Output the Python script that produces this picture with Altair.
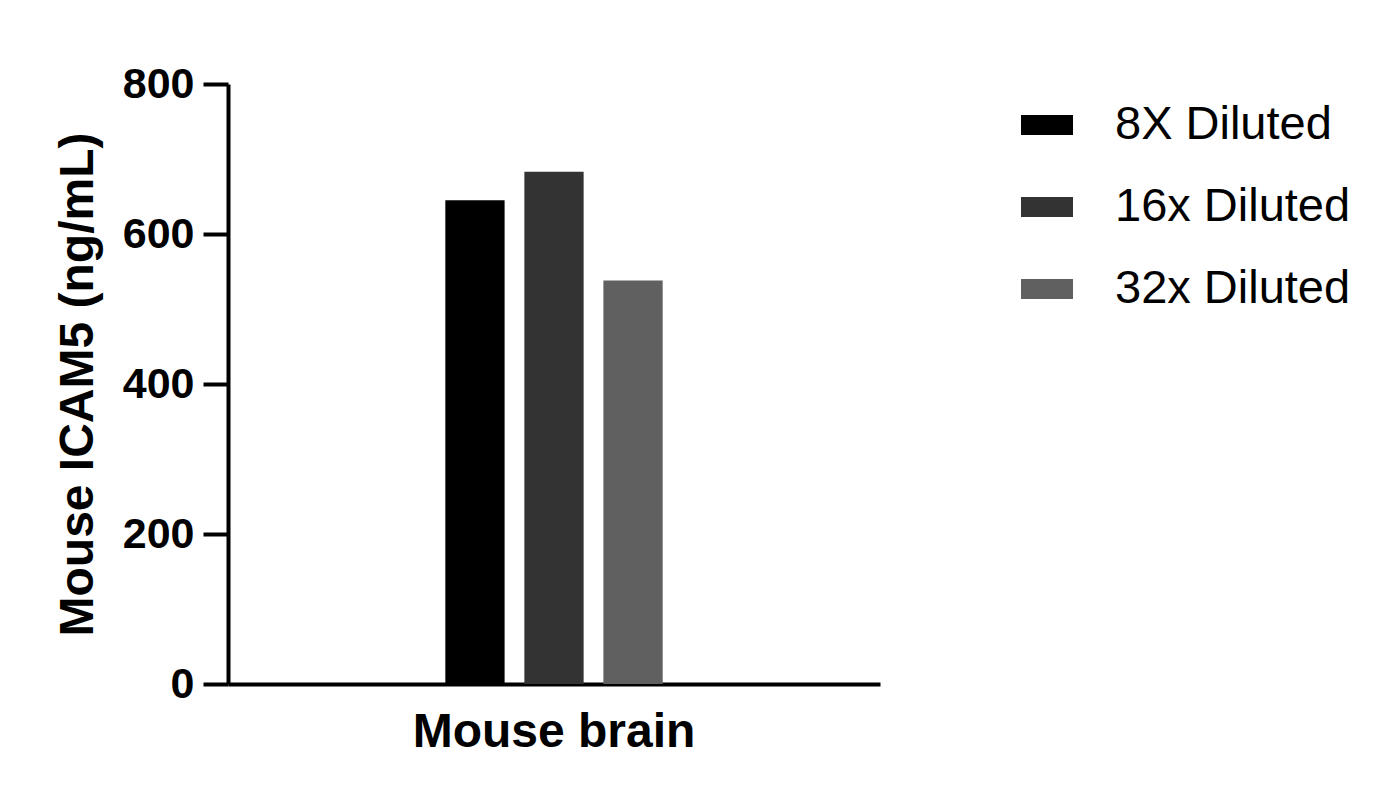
import altair as alt
import pandas as pd

samples = ["Mouse brain", "Mouse brain", "Mouse brain"]
dilutions = ["8X Diluted", "16x Diluted", "32x Diluted"]
values = [645, 683, 538]
colors = ["#000000", "#333333", "#606060"]
y_ticks = [0, 200, 400, 600, 800]

df = pd.DataFrame({"sample": samples, "dilution": dilutions, "value": values})

FONT = "Liberation Sans"

chart = alt.Chart(df).mark_bar().encode(
    x=alt.X(
        "sample:N",
        scale=alt.Scale(paddingInner=0, paddingOuter=1),
        axis=alt.Axis(
            title=None, labelAngle=0, ticks=False, domain=True,
            domainColor="black", domainWidth=4, labelLimit=0,
            labelFont=FONT, labelFontSize=48, labelFontWeight="bold",
            labelColor="black", labelPadding=24,
        ),
    ),
    xOffset=alt.XOffset(
        "dilution:N", sort=dilutions,
        scale=alt.Scale(paddingInner=0.25, paddingOuter=0),
    ),
    y=alt.Y(
        "value:Q",
        scale=alt.Scale(domain=[0, 800], nice=False),
        axis=alt.Axis(
            title="Mouse ICAM5 (ng/mL)", values=y_ticks, grid=False,
            domainColor="black", domainWidth=4, tickColor="black",
            tickWidth=4, tickSize=25, labelPadding=9,
            labelFont=FONT, labelFontSize=43, labelFontWeight="bold",
            labelColor="black", titleFont=FONT, titleFontSize=48,
            titleFontWeight="bold", titleColor="black", titlePadding=20,
        ),
    ),
    color=alt.Color(
        "dilution:N", sort=dilutions,
        scale=alt.Scale(domain=dilutions, range=colors),
        legend=alt.Legend(
            title=None, orient="none", legendX=793, legendY=15,
            symbolType="M-1,-0.385H1V0.385H-1Z", symbolSize=2704,
            symbolStrokeWidth=0, symbolOpacity=1, labelLimit=0,
            labelFont=FONT, labelFontSize=47, labelColor="black",
            labelOffset=42, rowPadding=33,
        ),
    ),
).properties(
    width=652, height=600, background="white",
    padding={"left": 220, "top": 76, "right": 509, "bottom": 112},
    autosize=alt.AutoSizeParams(type="none"),
).configure_view(stroke=None)

chart.save("out.html", embed_options={"renderer": "svg", "actions": False})
